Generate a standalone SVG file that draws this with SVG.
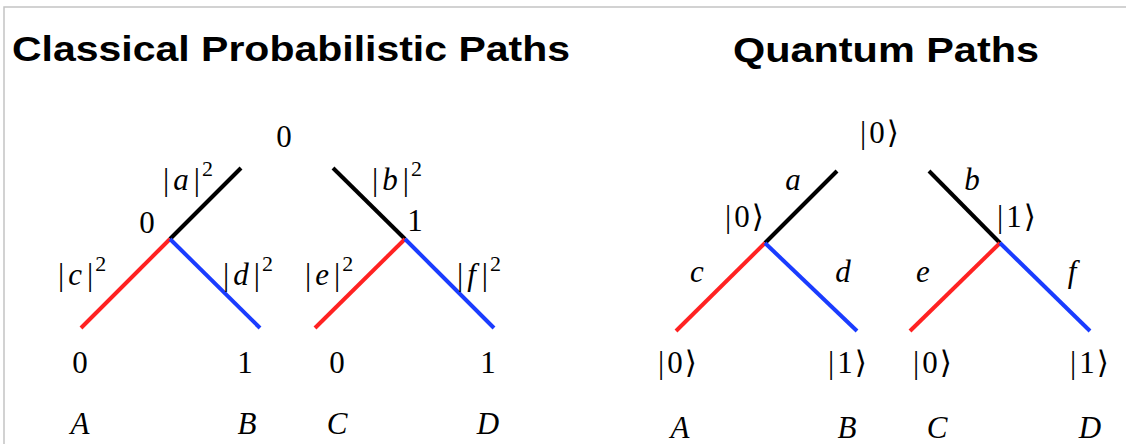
<svg xmlns="http://www.w3.org/2000/svg" width="1126" height="444" viewBox="0 0 1126 444">
<style>
.title{font-family:"Liberation Sans",Arial,sans-serif;font-weight:bold;font-size:35px;fill:#000}
.m{font-family:"Liberation Serif","DejaVu Serif",serif;font-size:31px;fill:#000}
.i{font-style:italic}
.sup{font-size:22px}
.k{stroke:#000;stroke-width:4;fill:none}
.r{stroke:#f22;stroke-width:4;fill:none}
.b{stroke:#1a3cff;stroke-width:4;fill:none}
</style>
<rect width="1126" height="444" fill="#fff"/>
<path d="M4,444 V7 H1126" fill="none" stroke="#c4c4c4" stroke-width="1.5"/>
<text class="title" x="12" y="61" textLength="558" lengthAdjust="spacingAndGlyphs">Classical Probabilistic Paths</text>
<text class="title" x="733" y="62" textLength="306" lengthAdjust="spacingAndGlyphs">Quantum Paths</text>

<g id="connectors">
<line class="k" x1="241" y1="168" x2="170" y2="239"/>
<line class="r" x1="170" y1="239" x2="81" y2="328"/>
<line class="b" x1="170" y1="239" x2="260" y2="328"/>
<line class="k" x1="333" y1="168" x2="405" y2="239"/>
<line class="r" x1="405" y1="239" x2="315" y2="328"/>
<line class="b" x1="405" y1="239" x2="494" y2="328"/>
<line class="k" x1="837" y1="171" x2="765" y2="243"/>
<line class="r" x1="765" y1="243" x2="676" y2="331"/>
<line class="b" x1="765" y1="243" x2="857" y2="331"/>
<line class="k" x1="929" y1="171" x2="1000" y2="243"/>
<line class="r" x1="1000" y1="243" x2="910" y2="331"/>
<line class="b" x1="1000" y1="243" x2="1090" y2="331"/>
</g>

<g id="classical-root"><text class="m" x="284" y="147" text-anchor="middle">0</text></g>
<g id="classical-mid0"><text class="m" x="147" y="233" text-anchor="middle">0</text></g>
<g id="classical-mid1"><text class="m" x="415" y="231" text-anchor="middle">1</text></g>
<g id="classical-labels">
<text class="m" x="163" y="190">|<tspan class="i" dx="4">a</tspan><tspan dx="5">|</tspan><tspan class="sup" dx="2" dy="-14">2</tspan></text>
<text class="m" x="372" y="190">|<tspan class="i" dx="4">b</tspan><tspan dx="5">|</tspan><tspan class="sup" dx="2" dy="-14">2</tspan></text>
<text class="m" x="58" y="285">|<tspan class="i" dx="4">c</tspan><tspan dx="5">|</tspan><tspan class="sup" dx="2" dy="-14">2</tspan></text>
<text class="m" x="223" y="285">|<tspan class="i" dx="4">d</tspan><tspan dx="5">|</tspan><tspan class="sup" dx="2" dy="-14">2</tspan></text>
<text class="m" x="305" y="285">|<tspan class="i" dx="4">e</tspan><tspan dx="5">|</tspan><tspan class="sup" dx="2" dy="-14">2</tspan></text>
<text class="m" x="457" y="285">|<tspan class="i" dx="4">f</tspan><tspan dx="6">|</tspan><tspan class="sup" dx="2" dy="-14">2</tspan></text>
</g>
<g id="classical-A"><text class="m" x="80" y="373" text-anchor="middle">0</text><text class="m i" x="80" y="434" text-anchor="middle">A</text></g>
<g id="classical-B"><text class="m" x="245" y="373" text-anchor="middle">1</text><text class="m i" x="247" y="434" text-anchor="middle">B</text></g>
<g id="classical-C"><text class="m" x="337" y="373" text-anchor="middle">0</text><text class="m i" x="337" y="434" text-anchor="middle">C</text></g>
<g id="classical-D"><text class="m" x="488" y="373" text-anchor="middle">1</text><text class="m i" x="488" y="434" text-anchor="middle">D</text></g>

<g id="quantum-root"><text class="m" x="860" y="143">|<tspan dx="3">0</tspan><tspan dx="2">⟩</tspan></text></g>
<g id="quantum-mid0"><text class="m" x="725" y="227">|<tspan dx="3">0</tspan><tspan dx="2">⟩</tspan></text></g>
<g id="quantum-mid1"><text class="m" x="997" y="227">|<tspan dx="3">1</tspan><tspan dx="2">⟩</tspan></text></g>
<g id="quantum-labels">
<text class="m i" x="793" y="190" text-anchor="middle">a</text>
<text class="m i" x="972" y="190" text-anchor="middle">b</text>
<text class="m i" x="697" y="282" text-anchor="middle">c</text>
<text class="m i" x="843" y="282" text-anchor="middle">d</text>
<text class="m i" x="923" y="282" text-anchor="middle">e</text>
<text class="m i" x="1072" y="282" text-anchor="middle">f</text>
</g>
<g id="quantum-A"><text class="m" x="658" y="373">|<tspan dx="3">0</tspan><tspan dx="2">⟩</tspan></text><text class="m i" x="680" y="438" text-anchor="middle">A</text></g>
<g id="quantum-B"><text class="m" x="828" y="373">|<tspan dx="3">1</tspan><tspan dx="2">⟩</tspan></text><text class="m i" x="847" y="438" text-anchor="middle">B</text></g>
<g id="quantum-C"><text class="m" x="913" y="373">|<tspan dx="3">0</tspan><tspan dx="2">⟩</tspan></text><text class="m i" x="937" y="438" text-anchor="middle">C</text></g>
<g id="quantum-D"><text class="m" x="1070" y="373">|<tspan dx="3">1</tspan><tspan dx="2">⟩</tspan></text><text class="m i" x="1090" y="438" text-anchor="middle">D</text></g>
</svg>
